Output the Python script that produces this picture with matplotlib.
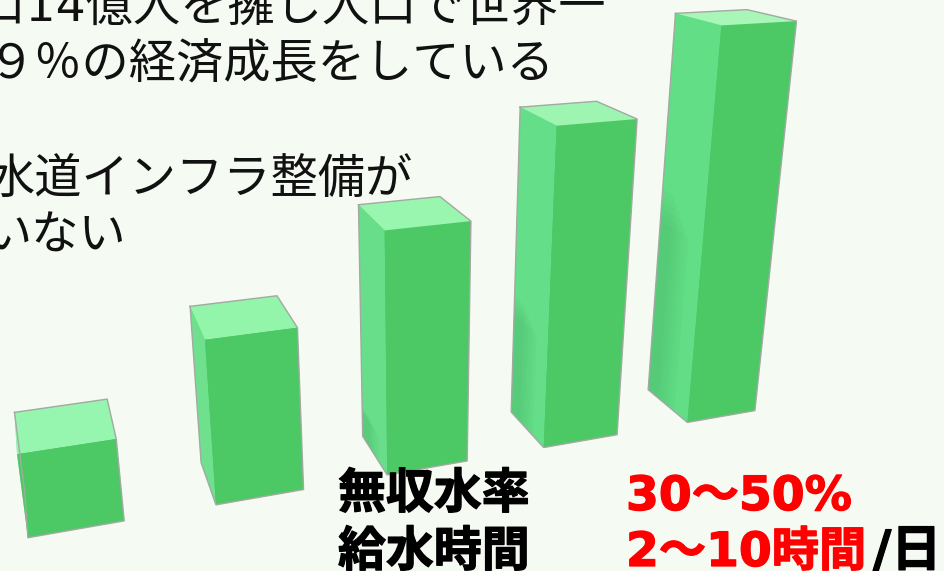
import matplotlib
matplotlib.use("Agg")
import matplotlib.pyplot as plt
import matplotlib.patheffects as pe
from mpl_toolkits.mplot3d.art3d import Poly3DCollection

# === DATA ===
bar_x = [0, 1, 2, 3, 4]
bar_heights = [0.5, 1.0, 1.5, 2.0, 2.5]
bar_width = 0.5
bar_depth = 0.5

body_lines = ["人口14億人を擁し人口で世界一", "９％の経済成長をしている", "水道インフラ整備が", "いない"]
stat_names = ["無収水率", "給水時間"]
stat_values = ["30～50%", "2～10時間"]
stat_suffix = "/日"

# === STYLE ===
W, H = 944, 571
BG = "#f5faf3"
FRONT = "#4cc864"
SIDE = ["#7ae297", "#6fe08e", "#68de8a", "#64de88", "#62de86"]
TOP = ["#96f5ae", "#92f5aa", "#98f6ae", "#9ef5b2", "#a8f6b8"]
EDGE = "#a3aaa3"

plt.rcParams["font.family"] = ["DejaVu Sans", "Noto Sans CJK JP"]

fig = plt.figure(figsize=(W / 100, H / 100), dpi=100, facecolor=BG)

# camera for the bar row
scale = 6107.548
ax = fig.add_axes([(423.455 - 0.095 * scale) / W, (306.552 - 0.095 * scale) / H,
                   0.185 * scale / W, 0.185 * scale / H], projection="3d")
ax.set_box_aspect((1, 1, 1))
ax.set_proj_type("persp", focal_length=0.1953)
ax.view_init(elev=19.93, azim=-109.354, roll=-0.079)
ax.set_xlim(3.48875 - 3, 3.48875 + 3, view_margin=0)
ax.set_ylim(3.60604 - 3, 3.60604 + 3, view_margin=0)
ax.set_zlim(-0.10766 - 3, -0.10766 + 3, view_margin=0)
ax.set_axis_off()
ax.patch.set_visible(False)
ax.computed_zorder = False

for i, (x, h) in enumerate(zip(bar_x, bar_heights)):
    # face order is -z, +z, -y, +y, -x, +x
    colors = [FRONT, TOP[i], FRONT, FRONT, SIDE[i], FRONT]
    ax.bar3d(x, 0, 0, bar_width, bar_depth, h, color=colors, shade=False,
             edgecolor="none", zorder=1)

    # soft dark patch low on the side face of the taller bars
    if h >= 1.5:
        for k in range(6):
            y0 = bar_depth - 0.04 * (k + 1) - 0.1
            top = (0.2 + 1.2 * (h - 1.5)) * (1 - k * 0.03)
            ax.add_collection3d(Poly3DCollection(
                [[(x, bar_depth, 0), (x, y0, 0), (x, y0, top), (x, bar_depth, top)]],
                facecolor="#3fa860", edgecolor="none", alpha=0.06, zorder=2))

    # outline round the visible faces
    xs = [x, x + bar_width, x + bar_width, x + bar_width, x, x, x]
    ys = [bar_depth, bar_depth, 0, 0, 0, bar_depth, bar_depth]
    zs = [h, h, h, 0, 0, 0, h]
    ax.plot(xs, ys, zs, color=EDGE, lw=1.0, zorder=3, solid_joinstyle="round")


def put(x, y, s, heavy=False, **kw):
    t = fig.text(x / W, 1 - y / H, s, va="baseline", **kw)
    if heavy:
        t.set_path_effects([pe.withStroke(linewidth=0.9, foreground=kw["color"])])


# body copy, running off the left and top edges
put(606, 22, body_lines[0], ha="right", fontsize=34, color="#111111")
put(555, 78, body_lines[1], ha="right", fontsize=34, color="#111111")
put(413, 194, body_lines[2], ha="right", fontsize=34, color="#111111")
put(126, 250, body_lines[3], ha="right", fontsize=34, color="#111111")

put(338, 508, stat_names[0], heavy=True, fontsize=34.5, fontweight="bold", color="black")
put(338, 566, stat_names[1], heavy=True, fontsize=34.5, fontweight="bold", color="black")
put(626, 510, stat_values[0], heavy=True, fontsize=34, fontweight="bold", color="#ff0000")
put(626, 566, stat_values[1], heavy=True, fontsize=34, fontweight="bold", color="#ff0000")
put(873, 566, stat_suffix, heavy=True, fontsize=36, fontweight="bold", color="black")

fig.savefig("out.png", dpi=100, facecolor=BG)
